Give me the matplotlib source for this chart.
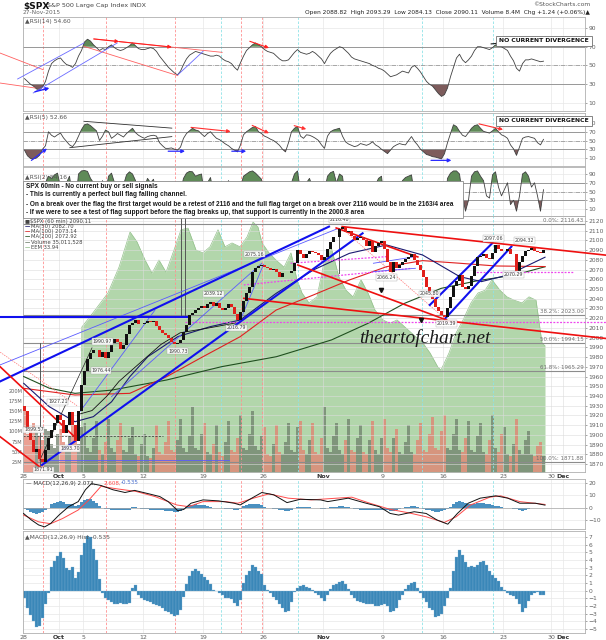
import matplotlib
matplotlib.use("Agg")
import matplotlib.pyplot as plt
import numpy as np
from matplotlib.patches import Rectangle

# ---------------- data ----------------
# x axis in trading-day units (0 = Sep 28), four samples per day
tick_days = [0, 3, 5, 10, 15, 20, 25, 30, 35, 40, 44, 45]
tick_labels = ["28", "Oct", "5", "12", "19", "26", "Nov", "9", "16", "23", "30", "Dec"]
red_marks = [1.7, 6.9, 12.7, 18.2, 19.9]
cyan_marks = [16.5, 22.9, 33.25, 39.2]

first_open = 1930
close = [
    1925, 1905, 1895, 1882, 1885, 1875, 1872, 1884, 1897, 1905, 1912, 1920,
    1915, 1902, 1910, 1923, 1910, 1894, 1925, 1951, 1966, 1978, 1984, 1987,
    1987, 1980, 1985, 1979, 1985, 1994, 1999, 1995, 1988, 1992, 2004, 2013,
    2015, 2018, 2014, 2014, 2015, 2017, 2016, 2017, 2012, 2008, 2005, 2003,
    2000, 1996, 1993, 1994, 1998, 2006, 2013, 2023, 2025, 2028, 2030, 2033,
    2030, 2035, 2037, 2033, 2036, 2030, 2028, 2030, 2035, 2031, 2024, 2018,
    2026, 2038, 2046, 2052, 2068, 2072, 2074, 2075, 2073, 2072, 2070, 2071,
    2067, 2062, 2066, 2066, 2066, 2069, 2077, 2090, 2086, 2082, 2086, 2089,
    2088, 2087, 2085, 2080, 2083, 2091, 2098, 2104, 2104, 2112, 2114, 2109,
    2110, 2105, 2100, 2102, 2104, 2100, 2094, 2099, 2088, 2094, 2097, 2099,
    2091, 2078, 2068, 2078, 2072, 2075, 2078, 2081, 2083, 2086, 2080, 2075,
    2070, 2062, 2052, 2045, 2040, 2032, 2027, 2023, 2021, 2030, 2042, 2053,
    2058, 2064, 2052, 2050, 2053, 2063, 2074, 2083, 2084, 2086, 2082, 2081,
    2087, 2095, 2091, 2089, 2089, 2091, 2086, 2086, 2069, 2078, 2084, 2089,
    2090, 2092, 2089, 2088, 2087, 2090,
]
volume = [
    160, 95, 85, 120, 110, 90, 80, 105, 100, 70, 60, 95, 105, 75, 65, 90,
    115, 80, 70, 110, 120, 60, 50, 85, 125, 55, 45, 75, 130, 60, 50, 80,
    120, 55, 50, 85, 110, 45, 40, 70, 95, 40, 35, 60, 115, 50, 45, 75,
    125, 55, 50, 80, 130, 60, 50, 90, 160, 60, 55, 95, 120, 50, 45, 70,
    115, 50, 40, 75, 125, 55, 50, 85, 140, 60, 55, 95, 150, 65, 55, 90,
    110, 45, 40, 70, 115, 50, 45, 75, 120, 55, 50, 110, 125, 55, 45, 80,
    120, 50, 45, 85, 160, 60, 50, 90, 120, 55, 45, 80, 130, 55, 50, 85,
    115, 50, 45, 80, 125, 55, 45, 85, 130, 60, 50, 85, 105, 50, 45, 75,
    115, 50, 45, 80, 120, 55, 50, 95, 135, 60, 55, 100, 140, 60, 55, 95,
    130, 55, 50, 85, 125, 55, 50, 90, 120, 50, 45, 80, 140, 60, 50, 95,
    110, 45, 40, 70, 130, 55, 45, 80, 100, 45, 40, 65, 75, 40,
]
rsi14 = [
    36, 33, 30, 28, 25, 24, 27, 33, 44, 52, 55, 57, 58, 54, 51, 50,
    48, 52, 60, 66, 75, 78, 76, 72, 69, 66, 68, 67, 70, 72, 69, 67,
    66, 67, 69, 71, 74, 71, 68, 67, 67, 68, 69, 68, 65, 60, 56, 52,
    48, 45, 42, 40, 44, 51, 57, 61, 63, 65, 64, 63, 62, 61, 60, 60,
    61, 60, 57, 55, 54, 52, 48, 45, 53, 60, 66, 69, 72, 74, 72, 70,
    67, 65, 64, 63, 60, 57, 55, 55, 56, 60, 64, 67, 64, 63, 62, 63,
    65, 63, 60, 57, 52, 58, 63, 66, 68, 70, 69, 66, 63, 59, 57, 56,
    55, 54, 53, 52, 50, 49, 47, 46, 44, 41, 38, 39, 40, 42, 44, 43,
    42, 48, 50, 47, 43, 38, 33, 30, 28, 24, 20, 17, 19, 26, 38, 48,
    58, 62, 56, 53, 56, 60, 66, 70, 70, 69, 68, 67, 69, 72, 71, 70,
    68, 66, 60, 55, 47, 44, 52, 56, 56, 57, 56, 55, 54, 54.6,
]
rsi5 = [
    28, 15, 9, 8, 10, 16, 30, 38, 70, 62, 58, 63, 67, 56, 48, 40,
    36, 45, 60, 75, 86, 88, 84, 78, 72, 50, 60, 74, 70, 55, 60, 66,
    62, 58, 66, 72, 78, 68, 62, 58, 55, 59, 61, 62, 60, 45, 38, 32,
    32, 33, 30, 28, 35, 55, 66, 72, 78, 74, 72, 65, 59, 66, 70, 62,
    55, 52, 47, 42, 38, 32, 28, 24, 40, 63, 70, 75, 80, 82, 70, 66,
    60, 57, 53, 50, 45, 39, 30, 24, 45, 70, 78, 82, 60, 55, 63, 62,
    59, 55, 50, 40, 32, 60, 70, 74, 76, 78, 60, 47, 42, 39, 36, 38,
    43, 41, 39, 42, 47, 40, 36, 30, 25, 20, 28, 36, 40, 43, 41, 40,
    50, 59, 48, 40, 30, 24, 18, 16, 13, 12, 10, 8, 20, 45, 66, 86,
    82, 71, 62, 59, 68, 78, 84, 86, 78, 71, 69, 67, 72, 78, 70, 63,
    60, 55, 40, 31, 16, 35, 55, 58, 59, 57, 55, 45, 40, 52.66,
]
rsi2 = [
    20, 8, 5, 3, 10, 5, 25, 70, 85, 80, 88, 92, 60, 30, 70, 85,
    40, 20, 90, 97, 98, 96, 80, 70, 60, 30, 75, 45, 85, 92, 70, 55,
    40, 65, 88, 95, 90, 75, 40, 50, 60, 80, 70, 78, 40, 30, 20, 15,
    20, 10, 8, 12, 50, 80, 92, 96, 95, 85, 88, 90, 40, 70, 82, 45,
    60, 35, 25, 50, 75, 40, 15, 8, 60, 85, 90, 95, 97, 92, 85, 78,
    40, 35, 30, 45, 20, 15, 55, 40, 50, 70, 90, 97, 50, 35, 70, 80,
    60, 55, 35, 15, 50, 85, 93, 96, 70, 90, 85, 30, 40, 25, 15, 45,
    70, 35, 20, 60, 20, 65, 80, 85, 20, 8, 5, 55, 30, 60, 75, 82,
    85, 88, 40, 20, 15, 8, 5, 4, 10, 5, 4, 3, 5, 80, 92, 97,
    97, 90, 40, 5, 30, 85, 95, 97, 85, 75, 40, 35, 88, 95, 60, 40,
    55, 70, 20, 30, 5, 40, 90, 95, 85, 60, 70, 40, 5, 54.16,
]
hist = [
    -1.0, -2.2, -3.2, -4.0, -4.8, -4.6, -3.5, -1.8, -0.3, 3.1, 3.9, 4.5,
    5.0, 4.2, 3.0, 2.7, 3.1, 1.6, 2.4, 4.6, 6.2, 7.1, 7.0, 5.4,
    4.0, 1.5, -0.3, -0.9, -1.2, -1.5, -1.7, -1.7, -1.6, -1.7, -1.7, -1.6,
    0.3, 0.7, -0.5, -0.9, -1.2, -1.3, -1.5, -1.7, -1.9, -2.0, -2.3, -2.6,
    -2.8, -3.1, -3.3, -3.2, -2.5, -0.8, 0.9, 1.9, 2.5, 2.8, 2.5, 2.2,
    1.8, 1.4, 0.9, 0.1, -0.1, -0.3, -0.6, -0.9, -1.0, -1.1, -1.6, -2.0,
    -1.2, 1.0, 2.0, 2.6, 3.3, 3.1, 2.6, 2.2, 0.8, 0.1, -0.3, -0.8,
    -1.2, -1.8, -2.3, -2.8, -2.6, -1.5, -0.2, 0.4, 0.6, 0.7, 0.5, 0.3,
    0.1, -0.3, -0.6, -1.0, -1.3, -0.5, 0.2, 0.7, 0.9, 1.1, 1.2, 0.9,
    0.2, -0.5, -1.0, -1.4, -1.5, -1.6, -1.7, -1.7, -1.8, -2.0, -2.0, -1.9,
    -1.7, -2.0, -2.8, -2.6, -2.3, -1.2, -0.5, 0.2, 0.7, 1.0, 1.1, 0.4,
    -0.3, -1.0, -1.5, -2.2, -2.5, -3.4, -3.3, -3.0, -2.0, -1.0, 0.3, 2.6,
    4.4, 5.3, 4.7, 3.8, 3.1, 3.2, 3.1, 3.4, 3.7, 3.9, 3.3, 2.6,
    2.0, 1.6, 1.2, 0.5, 0.1, -0.3, -0.5, -0.7, -1.1, -1.7, -2.8, -2.2,
    -1.3, -0.6, -0.3, -0.2, -0.6, -0.535,
]

macd_day = [0.04, 0.7, 1.3, 1.8, 2.3, 3.0, 3.8, 4.6, 5.2, 5.7, 6.5, 7.5, 8.5, 9.3, 10.5, 11.4,
            12.1, 12.9, 13.4, 14.0, 15.0, 16.3, 17.6, 18.1, 18.9, 19.9, 20.9, 22.0, 23.1, 24.8,
            25.4, 27.1, 28.4, 29.7, 30.6, 31.3, 32.6, 33.6, 34.5, 35.4, 36.2, 37.1, 38.1, 39.4,
            40.4, 41.4, 42.7, 43.5]
macd_val = [-4.7, -10, -14, -15.6, -12.9, -6, 0.8, 4.9, 14.5, 19.5, 18, 14.5, 12.3, 14, 11.2, 9,
            4.9, -2.5, -1.4, 3.6, 6.3, 5.5, 3.6, 2.2, 6.8, 12.3, 10.4, 4.1, 6.8, 6.3,
            4.9, 7.7, 4.1, 0.8, -4.7, -6, -3.3, -4.7, -10, -13.4, -4.7, 3.6, 7.7, 9.6,
            7.7, 3.6, 3.6, 2.07]
signal_day = [0.04, 1.3, 2.3, 3.3, 4.6, 5.5, 6.5, 7.8, 9.4, 11.0, 12.8, 13.8, 15.0, 16.9, 17.9, 19.2,
              20.5, 22.1, 24.0, 27.4, 28.9, 30.6, 32.1, 33.6, 35.1, 36.1, 37.3, 38.9, 39.8, 41.4, 43.5]
signal_val = [-6, -11.5, -13, -8.8, -1.9, 6.3, 17.3, 15.3, 13.2, 9, 2.2, 0.8, 4.9, 4.9, 3.6, 7.7,
              11.2, 7.7, 6.3, 8.5, 3.6, -1.4, -4.1, -7.4, -12, -7.4, 2.2, 8.5, 9.6, 4.9, 2.61]

ma50_day = [0.06, 2.19, 4.33, 5.86, 7.38, 8.9, 10.4, 12.9, 15.6, 18.1, 21.1, 24.2, 27.2, 30.3, 33.3,
            36.4, 38.2, 40.4, 43.5]
ma50_val = [1953, 1929, 1913.5, 1918.7, 1934, 1959.8, 1980.4, 2001, 2011.3, 2018.1, 2045.6, 2069.6,
            2086.7, 2095.3, 2085, 2062.7, 2057.6, 2064.4, 2082.7]
ma100_day = [0.06, 4.33, 8.9, 11.96, 15.0, 18.1, 21.1, 24.2, 27.2, 30.3, 33.3, 36.4, 39.4, 43.5]
ma100_val = [1947.9, 1941, 1942.7, 1959.8, 1980.4, 2001, 2028.4, 2043.9, 2059.3, 2073, 2079.2,
             2076.5, 2073.7, 2073.1]
ma200_day = [0.06, 2.19, 4.33, 7.38, 11.96, 16.54, 21.12, 25.7, 28.75, 31.8, 34.85, 37.9, 40.96, 43.5]
ma200_val = [1960, 1948, 1942.7, 1946, 1956.4, 1970.1, 1980.4, 1997.6, 2014.7, 2035.3, 2050.7,
             2058.6, 2064.4, 2072.9]
black_ma_day = [4.6, 5.75, 7.0, 8.0, 9.75, 11.5, 13.1, 15.5, 18.1]
black_ma_val = [1921, 1925, 1940, 1955, 1974, 1993, 2005, 2010, 2016]

eem_day = [0, 4.85, 4.9, 5.83, 7.08, 8.0, 8.92, 9.5, 10.17, 10.75, 11.33, 11.92, 12.58, 13.17,
           13.75, 14.42, 15.0, 15.58, 16.25, 16.83, 17.42, 18.08, 18.67, 19.17, 19.58, 19.92,
           20.5, 21.08, 21.75, 22.33, 22.83, 23.25, 23.83, 24.5, 25.08, 25.67, 26.33, 26.92,
           27.5, 28.17, 28.75, 29.33, 30.0, 30.58, 31.17, 31.83, 32.75, 33.33, 33.92, 34.58,
           34.83, 35.5, 36.08, 36.67, 37.33, 37.92, 38.5, 39.08, 39.75, 40.33, 40.92, 41.58,
           42.17, 42.75, 43.25, 43.5]
eem_val = [31.3, 31.3, 34.28, 34.54, 34.90, 35.37, 36.01, 35.83, 35.50, 35.26, 35.50, 35.28,
           35.68, 36.05, 36.08, 35.68, 35.63, 35.74, 36.05, 35.74, 35.81, 35.74, 35.92, 36.19,
           36.10, 35.81, 35.63, 35.50, 35.37, 35.63, 35.14, 34.90, 34.72, 34.83, 35.45, 35.74,
           35.19, 34.95, 34.83, 35.14, 34.90, 34.59, 34.41, 34.35, 34.41, 34.28, 34.10, 33.99,
           33.81, 33.55, 33.50, 33.81, 34.17, 34.41, 34.72, 34.90, 34.95, 35.14, 34.95, 34.83,
           34.77, 34.72, 34.83, 34.77, 33.99, 33.94]

fib_levels = [2116.43, 2023.00, 1994.15, 1965.29, 1871.88]
fib_names = ["0.0%", "38.2%", "50.0%", "61.8%", "100.0%"]

# analyst trend lines, (day, price) pairs
blue_thick = [((-1.9, 1955), (25.5, 2114.2)), ((1.58, 1869), (28.3, 2107.3)),
              ((33.9, 2033.6), (39.1, 2097)), ((35.2, 2019.9), (40.7, 2093.6)),
              ((-1.9, 2021.2), (13.7, 2021.2))]
blue_thin = [((-1.9, 1972), (26.3, 2112.5)), ((4.63, 1922), (11.0, 2028.4)),
             ((7.38, 1939.3), (19.9, 2076.5)), ((18.1, 2017.7), (20.05, 2075.4)),
             ((1.58, 1874), (17.2, 1874)), ((29.2, 2076.5), (32.7, 2083.3)),
             ((29.2, 2067.9), (32.7, 2071.3))]
red_thick = [((26.6, 2114.2), (48.6, 2084.8)), ((18.4, 2040.4), (48.6, 1999.1)),
             ((22.9, 2074.7), (35.3, 2018.1)), ((26.1, 2112.8), (32.9, 2083)),
             ((-1.9, 1970), (4.3, 1898)), ((-1.9, 1898), (1.4, 1867))]
red_thin = [((26.6, 2112), (35.2, 2019)), ((-1.9, 1985), (4.5, 1930))]
black_thin = [((1.4, 1874), (5.75, 1989.5))]
magenta_dotted = [((13.5, 2016.4), (48.6, 2016.4)), ((18.4, 2054.2), (32.4, 2071.3)),
                  ((22.3, 2076.5), (30.3, 2083.3)), ((37.5, 2067.5), (45.8, 2067.5))]
gray_verticals = [(13.17, 2021, 2125), (13.5, 2021, 2125), (26.3, 2066, 2113), (1.4, 1862, 1994)]
down_marks_day = [29.8, 33.2]
down_marks_val = [2049, 2018]
price_labels = [(1.7, 1864, "1871.91"), (0.9, 1905, "1899.57"), (2.9, 1934, "1927.21"),
                (3.9, 1886, "1893.70"), (6.6, 1996, "1990.97"), (6.5, 1966, "1976.44"),
                (12.9, 1986, "1990.73"), (15.9, 2045, "2039.12"), (17.8, 2010, "2016.79"),
                (19.3, 2086, "2075.16"), (26.4, 2121, "2116.48"), (30.3, 2062, "2066.24"),
                (33.9, 2045, "2045.80"), (35.3, 2014.5, "2019.39"), (39.2, 2102, "2097.06"),
                (41.8, 2100, "2094.32"), (40.9, 2065, "2070.29")]
avg_volume = (0, 11.7, 89)

rsi14_red = [((5.9, 78.3), (16.6, 64)), ((5.08, 70.4), (12.9, 39.2)),
             ((-1.92, 63.3), (1.66, 45.6)), ((-1.92, 31.3), (1.0, 26))]
rsi14_blue = [((-0.45, 35.6), (5.08, 74)), ((0.85, 20.7), (7.85, 74)), ((12.9, 40), (15.0, 65))]
rsi14_red_arrows = [((5.9, 78.3), (8.0, 75.5)), ((8.0, 75.5), (12.4, 69.6)), ((18.9, 75.8), (20.5, 68.7))]
rsi14_blue_arrows = [((1.0, 22), (2.2, 26))]
rsi14_black_arrows = [((39.0, 73), (40.6, 75))]
rsi5_black = [((5.08, 93.9), (12.4, 78.3)), ((3.9, 33.6), (12.4, 58.9))]
rsi5_red_arrows = [((14.0, 80), (17.3, 70.6)), ((19.1, 84.6), (20.5, 66.7)),
                   ((22.6, 84), (23.6, 76)), ((38.0, 88), (40.0, 75))]
rsi5_blue_arrows = [((0.7, 4.6), (2.0, 31.7)), ((12.1, 25.5), (13.5, 25.5)),
                    ((17.4, 25.5), (18.6, 25.5)), ((34.0, 4.6), (35.7, 4.6))]

# ---------------- layout ----------------
W, H = 606, 640
X0, X1 = 23, 585
XMAX = (X1 - X0) / 12.0
GRAY = "#606060"

fig = plt.figure(figsize=(W / 100, H / 100), dpi=100)
fig.patch.set_facecolor("white")

x = np.arange(len(close)) / 4 + 0.125
opens = np.array([first_open] + close[:-1], dtype=float)
closes = np.array(close, dtype=float)
up = closes >= opens


def panel(top, bottom, z=0):
    return fig.add_axes([X0 / W, 1 - bottom / H, (X1 - X0) / W, (bottom - top) / H], zorder=z)


def base(ax, ylim, yticks):
    ax.set_xlim(0, XMAX)
    ax.set_ylim(*ylim)
    ax.set_xticks(tick_days)
    ax.set_xticklabels([])
    ax.tick_params(axis="x", length=0)
    ax.yaxis.tick_right()
    ax.set_yticks(yticks)
    ax.tick_params(axis="y", labelsize=4.3, colors=GRAY, length=1.5, width=0.4, pad=1)
    ax.grid(True, color="#e8e8e8", lw=0.5)
    ax.set_axisbelow(True)
    for s in ax.spines.values():
        s.set_color("#b0b0b0")
        s.set_linewidth(0.6)
    for d in red_marks:
        ax.axvline(d, color="#ff9090", lw=0.6, ls=(0, (3, 2)), zorder=1)
    for d in cyan_marks:
        ax.axvline(d, color="#8ee3e8", lw=0.6, ls=(0, (3, 2)), zorder=1)


def segs(ax, lines, color, lw, ls="-"):
    for (a, b) in lines:
        ax.plot([a[0], b[0]], [a[1], b[1]], color=color, lw=lw, ls=ls, clip_on=False, zorder=4)


def arrows(ax, lines, color, lw=0.8):
    for (a, b) in lines:
        ax.annotate("", xy=b, xytext=a,
                    arrowprops=dict(arrowstyle="-|>", color=color, lw=lw, mutation_scale=5,
                                    shrinkA=0, shrinkB=0), zorder=5)


def rsi_panel(top, bottom, ylim, vals):
    ax = panel(top, bottom)
    base(ax, ylim, [10, 30, 50, 70, 90])
    ax.axhline(70, color="#8a8a8a", lw=0.6)
    ax.axhline(30, color="#8a8a8a", lw=0.6)
    ax.axhline(50, color="#8a8a8a", lw=0.5, ls="-.")
    v = np.array(vals, dtype=float)
    xx = x[:len(v)]
    ax.fill_between(xx, v, 70, where=v > 70, interpolate=True, color="#5f8a58", lw=0)
    ax.fill_between(xx, v, 30, where=v < 30, interpolate=True, color="#7d5c5c", lw=0)
    ax.plot(xx, v, color="#404040", lw=0.6)
    return ax


# RSI panels
ax14 = rsi_panel(17, 111, (1.47, 101.7), rsi14)
segs(ax14, rsi14_red, "#ff6060", 0.6)
segs(ax14, rsi14_blue, "#6a6aff", 0.6)
arrows(ax14, rsi14_red_arrows, "#ff2020")
arrows(ax14, rsi14_blue_arrows, "#2020ff", 1.0)
arrows(ax14, rsi14_black_arrows, "#202020")

ax5 = rsi_panel(113, 166, (-8.3, 112.9), rsi5)
segs(ax5, rsi5_black, "#303030", 0.6)
arrows(ax5, rsi5_red_arrows, "#ff3030")
arrows(ax5, rsi5_blue_arrows, "#2a2aff", 0.9)

ax2 = rsi_panel(167, 216, (-6, 106), rsi2)

# main price panel: EEM area, volume, candles
ax_e = panel(216, 472, z=1)
ax_e.set_xlim(0, XMAX)
ax_e.set_ylim(31.645, 36.3)
ax_e.axis("off")
ax_e.fill_between(eem_day, eem_val, 31.0, color="#b2d6ab", lw=0)
ax_e.plot(eem_day, eem_val, color="#93c08b", lw=0.5)

ax_v = panel(216, 472, z=2)
ax_v.patch.set_visible(False)
ax_v.set_xlim(0, XMAX)
ax_v.set_ylim(0, 632)
for s in ax_v.spines.values():
    s.set_visible(False)
ax_v.set_xticks([])
ax_v.set_yticks([25, 50, 75, 100, 125, 150, 175, 200])
ax_v.set_yticklabels(["25M", "50M", "75M", "100M", "125M", "150M", "175M", "200M"])
ax_v.tick_params(axis="y", labelsize=3.6, colors=GRAY, length=0, pad=0.5)
vcol = np.where(up, "#6f7f6c", "#e3806f")
ax_v.bar(x, volume, width=0.2, color=vcol, alpha=0.75, lw=0)
ax_v.plot([avg_volume[0], avg_volume[1]], [avg_volume[2], avg_volume[2]],
          color="#303030", lw=0.5, ls=(0, (3, 2)))

ax = panel(216, 472, z=3)
ax.patch.set_visible(False)
base(ax, (1861.8, 2125.1), list(range(1870, 2121, 10)))
ax.grid(True, color="#dcdcdc", lw=0.4)
ax.set_xticklabels(tick_labels)
ax.tick_params(axis="x", labelsize=4.5, colors=GRAY, pad=1.5)
for t in ax.get_xticklabels():
    if t.get_text() in ("Oct", "Nov", "Dec"):
        t.set_fontweight("bold")
        t.set_color("#333333")

for lvl, name in zip(fib_levels, fib_names):
    ax.axhline(lvl, color="#8c8c8c", lw=0.8, zorder=2)
    ax.text(46.7, lvl + 1.2, "%s: %.2f" % (name, lvl), fontsize=4, color="#707070",
            ha="right", va="bottom", zorder=3)

for d, lo, hi in gray_verticals:
    ax.plot([d, d], [lo, hi], color="#555555", lw=0.7, zorder=3)

ax.plot(ma200_day, ma200_val, color="#1f4f1f", lw=0.8, zorder=4)
ax.plot(ma100_day, ma100_val, color="#e02020", lw=0.8, zorder=4)
ax.plot(ma50_day, ma50_val, color="#1a1a70", lw=0.8, zorder=4)
ax.plot(black_ma_day, black_ma_val, color="#111111", lw=0.6, zorder=4)

segs(ax, magenta_dotted, "#ee44ee", 0.9, ls=(0, (1.5, 1.2)))
segs(ax, red_thin, "#ff7070", 0.5, ls=(0, (2, 1.5)))
segs(ax, blue_thin, "#5a5aff", 0.6)
segs(ax, blue_thick, "#1010ee", 1.5)
segs(ax, red_thick, "#ee1010", 1.2)
segs(ax, black_thin, "#222222", 0.5)

ax.bar(x, closes - opens, bottom=opens, width=0.17,
       color=np.where(up, "#111111", "#e0201b"), lw=0, zorder=6)
ax.plot(down_marks_day, down_marks_val, ls="none", marker="v", ms=3, color="#111111", zorder=6)

for d, p, t in price_labels:
    ax.text(d, p, t, fontsize=3.4, color="#404040", ha="center", va="center", zorder=7,
            bbox=dict(boxstyle="square,pad=0.15", fc="white", ec="#a0a0a0", lw=0.3, alpha=0.9))

# MACD panel
ax_m = panel(479, 529)
base(ax_m, (-17.3, 23.24), [-10, 0, 10, 20])
ax_m.bar(x, hist, width=0.24, color="#4a90c0", lw=0, zorder=2)
ax_m.axhline(0, color="#a8a8a8", lw=0.5)
ax_m.plot(signal_day, signal_val, color="#ff4a4a", lw=0.7, zorder=3)
ax_m.plot(macd_day, macd_val, color="#111111", lw=0.7, zorder=3)

# MACD histogram panel
ax_h = panel(531, 633)
base(ax_h, (-5.52, 7.78), list(range(-5, 8)))
ax_h.bar(x, hist, width=0.22, color="#3a87b8", edgecolor="#86b6d6", lw=0.2, zorder=2)
ax_h.set_xticklabels(tick_labels)
ax_h.tick_params(axis="x", labelsize=4.5, colors=GRAY, pad=1.5)
for t in ax_h.get_xticklabels():
    if t.get_text() in ("Oct", "Nov", "Dec"):
        t.set_fontweight("bold")
        t.set_color("#333333")


# ---------------- texts ----------------
def ftxt(px, py, s, **kw):
    kw.setdefault("fontsize", 4.3)
    kw.setdefault("color", "#333333")
    kw.setdefault("va", "center")
    kw.setdefault("zorder", 12)
    return fig.text(px / W, 1 - py / H, s, **kw)


ftxt(23, 6, "$SPX", fontsize=6.5, weight="bold", color="#111111")
ftxt(47, 6, "S&P 500 Large Cap Index INDX", fontsize=4.6, color="#444444")
ftxt(23, 12.5, "27-Nov-2015", fontsize=4.2, color="#666666")
ftxt(590, 5, "\u00a9StockCharts.com", fontsize=4.3, color="#555555", ha="right")
ftxt(590, 12.5, "Open 2088.82  High 2093.29  Low 2084.13  Close 2090.11  Volume 8.4M  Chg +1.24 (+0.06%)\u25b2",
     fontsize=4.2, color="#222222", ha="right")
ftxt(25, 21, "\u25b2RSI(14) 54.60", fontsize=4.3, color="#555555")
ftxt(25, 117, "\u25b2RSI(5) 52.66", fontsize=4.3, color="#555555")
ftxt(25, 177, "\u25b2RSI(2) 54.16", fontsize=4.3, color="#555555")

for py in (41, 121):
    ftxt(544, py, "NO CURRENT DIVERGENCE", fontsize=4.4, weight="bold", color="#111111", ha="center",
         bbox=dict(boxstyle="square,pad=0.45", fc="white", ec="#707070", lw=0.6))

fig.add_artist(Rectangle((X0 / W, 1 - 218 / H), (463 - X0) / W, (218 - 181) / H,
                         transform=fig.transFigure, fc="white", ec="#8a8a8a", lw=0.6, zorder=11))
notes = [
    "SPX 60min - No current buy or sell signals",
    "- This is currently a perfect bull flag falling channel.",
    "- On a break over the flag the first target would be a retest of 2116 and the full flag target on a break over 2116 would be in the 2163/4 area",
    "- If we were to see a test of flag support before the flag breaks up, that support is currently in the 2000.8 area",
]
for i, line in enumerate(notes):
    ftxt(26, 186 + i * 9, line, fontsize=4.7, color="#1a1a1a", weight="bold",
         family=["Liberation Sans Narrow", "Liberation Sans", "DejaVu Sans"])

legend_rows = [("$SPX (60 min) 2090.11", None), ("MA(50) 2082.70", "#1a1a70"),
               ("MA(100) 2073.14", "#e02020"), ("MA(200) 2072.92", "#1f4f1f"),
               ("Volume 35,011,528", "#6f7f6c"), ("EEM 33.94", "#93c08b")]
for i, (lab, col) in enumerate(legend_rows):
    py = 221 + i * 5.3
    if col is None:
        ftxt(25, py, "\u25a0" + lab, fontsize=3.8, color="#444444", zorder=8)
    else:
        ftxt(25, py, "\u2014", fontsize=3.8, color=col, zorder=8, weight="bold")
        ftxt(31, py, lab, fontsize=3.8, color="#444444", zorder=8)

ftxt(425, 338, "theartofchart.net", fontsize=14, color="#1a1a1a", ha="center", style="italic",
     family=["Liberation Serif", "DejaVu Serif"], zorder=8)

ftxt(26, 483, "\u2014 MACD(12,26,9) 2.073,", fontsize=4.1, color="#333333")
ftxt(104, 483, "2.608,", fontsize=4.1, color="#ff4a4a")
ftxt(121, 483, "-0.535", fontsize=4.1, color="#4a70d0")
ftxt(25, 537, "\u25b2MACD(12,26,9) Hist -0.535", fontsize=4.3, color="#555555")

fig.savefig("out.png", dpi=100, facecolor="white")
